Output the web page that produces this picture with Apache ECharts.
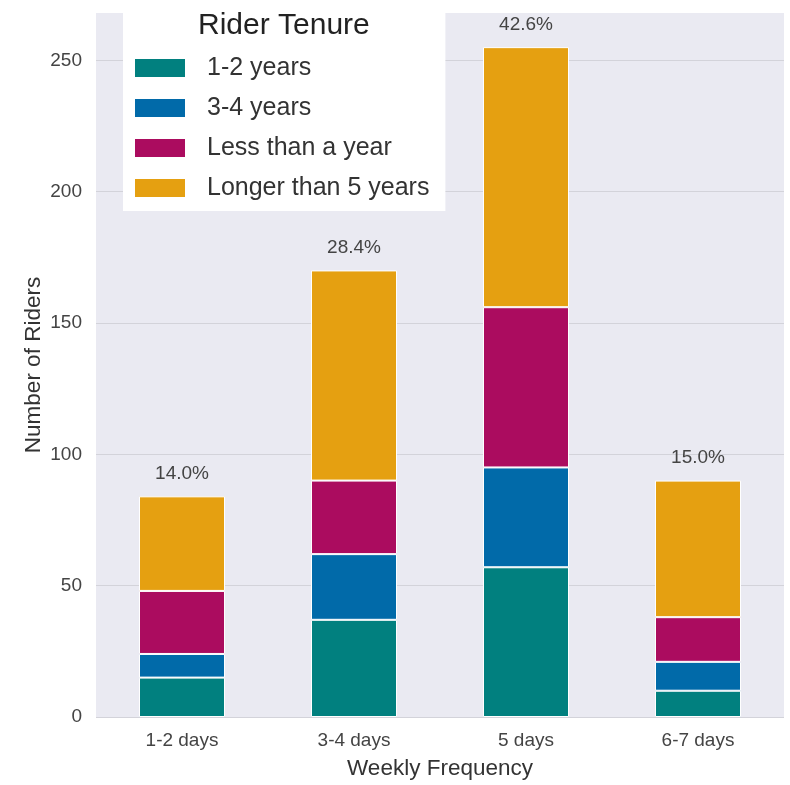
<!DOCTYPE html>
<html>
<head>
<meta charset="utf-8">
<script src="https://cdn.jsdelivr.net/npm/echarts@6/dist/echarts.min.js"></script>
<style>
html,body{margin:0;padding:0;background:#fff;}
#chart{width:790px;height:785px;}
</style>
</head>
<body>
<div id="chart"></div>
<script>
var categories = ['1-2 days', '3-4 days', '5 days', '6-7 days'];
var seriesNames = ['1-2 years', '3-4 years', 'Less than a year', 'Longer than 5 years'];
var years12 = [15, 37, 57, 10];
var years34 = [9, 25, 38, 11];
var lessThanYear = [24, 28, 61, 17];
var longerThan5 = [36, 80, 99, 52];
var yTicks = [0, 50, 100, 150, 200, 250];
var colors = ['#01807f', '#016aa9', '#ab0c5f', '#e5a011'];

var stacks = [years12, years34, lessThanYear, longerThan5];
var totals = categories.map(function (c, i) {
  return stacks.reduce(function (s, arr) { return s + arr[i]; }, 0);
});
var grand = totals.reduce(function (a, b) { return a + b; }, 0);

var FONT = '"Liberation Sans", Arial, sans-serif';

var series = stacks.map(function (arr, k) {
  var s = {
    name: seriesNames[k],
    type: 'bar',
    stack: 'total',
    data: arr,
    barWidth: '50%',
    itemStyle: { color: colors[k], borderColor: '#ffffff', borderWidth: 1 },
    emphasis: { disabled: true }
  };
  if (k === stacks.length - 1) {
    s.label = {
      show: true,
      position: 'top',
      distance: 13,
      color: '#444',
      fontFamily: FONT,
      fontSize: 19,
      formatter: function (p) {
        return (totals[p.dataIndex] / grand * 100).toFixed(1) + '%';
      }
    };
  }
  return s;
});

var chart = echarts.init(document.getElementById('chart'), null, { renderer: 'canvas' });
chart.setOption({
  animation: false,
  backgroundColor: '#ffffff',
  grid: {
    left: 96, right: 6, top: 13, bottom: 65,
    show: true, backgroundColor: '#eaeaf2', borderWidth: 0
  },
  xAxis: {
    type: 'category',
    data: categories,
    axisLine: { show: false },
    axisTick: { show: false },
    axisLabel: { color: '#444', fontFamily: FONT, fontSize: 19, margin: 14 },
    name: 'Weekly Frequency',
    nameLocation: 'middle',
    nameGap: 40,
    nameTextStyle: { color: '#333', fontFamily: FONT, fontSize: 22.5 }
  },
  yAxis: {
    type: 'value',
    min: yTicks[0],
    max: 268,
    interval: yTicks[1] - yTicks[0],
    axisLine: { show: false },
    axisTick: { show: false },
    axisLabel: { color: '#444', fontFamily: FONT, fontSize: 19, margin: 14, showMaxLabel: false },
    splitLine: { show: true, showMaxLine: false, lineStyle: { color: '#d3d3da', width: 1 } },
    name: 'Number of Riders',
    nameLocation: 'middle',
    nameGap: 51,
    nameMoveOverlap: false,
    nameTextStyle: { color: '#333', fontFamily: FONT, fontSize: 22.5 }
  },
  legend: {
    orient: 'vertical',
    left: 123,
    top: 0,
    data: seriesNames,
    icon: 'rect',
    backgroundColor: '#ffffff',
    padding: [54, 16, 9, 12],
    itemWidth: 50,
    itemHeight: 18,
    itemGap: 12,
    selectedMode: false,
    itemStyle: { borderWidth: 0 },
    textStyle: { color: '#333', fontFamily: FONT, fontSize: 25, lineHeight: 28, padding: [0, 0, 0, 17] }
  },
  graphic: [{
    type: 'text',
    z: 100,
    left: 198,
    top: 11,
    style: { text: 'Rider Tenure', fill: '#222', font: '30px ' + FONT }
  }],
  series: series
});
</script>
</body>
</html>
